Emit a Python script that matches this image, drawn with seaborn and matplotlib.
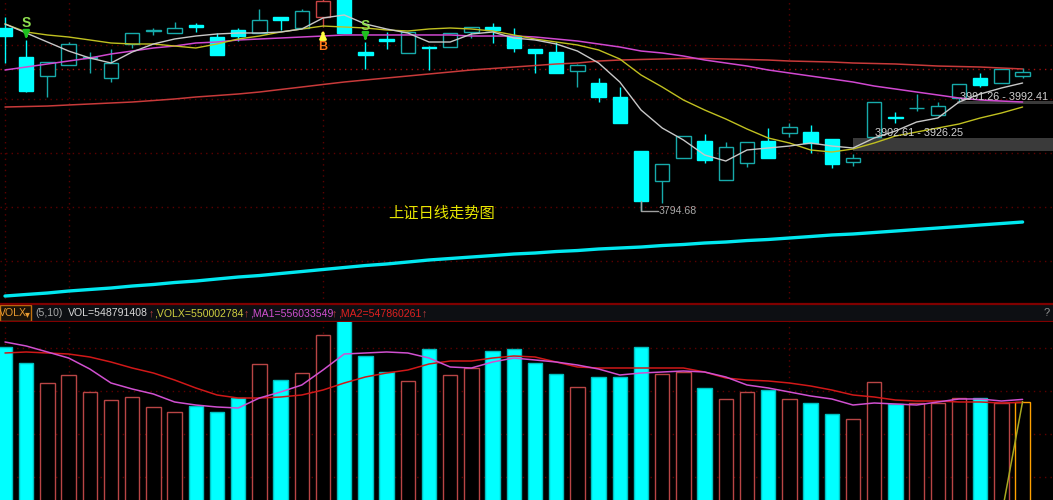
import numpy as np
import matplotlib
matplotlib.use("Agg")
import matplotlib.pyplot as plt
from matplotlib.patches import Rectangle
import seaborn as sns

# ---------------- data ----------------
idx = np.arange(49)

opens = [4127.2, 4074.4, 4039.8, 4059.9, 4073.5, 4036.2, 4098.1, 4121.7, 4118.1, 4132.7,
         4110.8, 4123.6, 4118.1, 4147.2, 4127.2, 4147.2, 4196.4, 4083.5, 4106.3, 4081.7,
         4093.5, 4092.6, 4119.9, 4129.0, 4112.6, 4089.0, 4083.5, 4048.9, 4027.1, 4001.6,
         3903.3, 3848.7, 3890.6, 3921.5, 3850.6, 3881.5, 3921.5, 3936.1, 3937.9, 3925.2,
         3883.3, 3928.8, 3966.1, 3980.7, 3968.9, 3999.8, 4036.2, 4027.1, 4039.8]
closes = [4112.6, 4012.5, 4065.3, 4098.1, 4075.3, 4063.5, 4118.1, 4123.6, 4127.2, 4129.0,
          4078.1, 4112.6, 4141.8, 4141.8, 4158.1, 4176.3, 4118.1, 4078.1, 4104.4, 4119.9,
          4091.7, 4118.1, 4129.0, 4123.6, 4090.8, 4081.7, 4045.3, 4059.9, 4001.6, 3954.3,
          3812.3, 3879.7, 3930.6, 3887.0, 3910.6, 3919.7, 3890.6, 3947.0, 3917.9, 3879.7,
          3890.6, 3992.5, 3964.3, 3982.5, 3985.2, 4025.3, 4023.5, 4052.6, 4047.1]
highs = [4147.2, 4105.4, 4065.3, 4101.7, 4083.5, 4089.0, 4118.1, 4127.2, 4138.1, 4136.3,
         4118.1, 4127.2, 4161.8, 4147.2, 4161.8, 4183.6, 4205.5, 4101.7, 4119.9, 4119.9,
         4094.4, 4118.1, 4129.0, 4136.3, 4127.2, 4089.0, 4101.7, 4061.7, 4036.2, 4019.8,
         3903.3, 3879.7, 3930.6, 3934.3, 3919.7, 3919.7, 3945.2, 3954.3, 3950.7, 3925.2,
         3897.9, 3992.5, 3974.3, 4007.1, 3992.5, 4025.3, 4045.3, 4052.6, 4054.4]
lows = [4063.5, 4010.7, 4001.6, 4059.9, 4045.3, 4028.9, 4090.8, 4114.5, 4118.1, 4119.9,
        4078.1, 4103.5, 4118.1, 4123.6, 4127.2, 4129.0, 4118.1, 4052.6, 4089.0, 4081.7,
        4050.8, 4092.6, 4109.0, 4099.9, 4083.5, 4045.3, 4045.3, 4019.8, 3992.5, 3954.3,
        3794.68, 3808.7, 3890.6, 3881.5, 3850.6, 3874.2, 3890.6, 3928.8, 3899.7, 3872.4,
        3876.0, 3928.8, 3954.3, 3976.1, 3968.9, 3992.5, 4019.8, 4027.1, 4036.2]

ma5 = [4134.5, 4118.1, 4101.7, 4085.3, 4072.6, 4063.5, 4083.5, 4098.1, 4107.2, 4112.6,
       4116.3, 4118.1, 4118.1, 4119.9, 4125.4, 4145.4, 4150.9, 4134.5, 4125.4, 4118.1,
       4101.7, 4101.7, 4116.3, 4119.9, 4109.0, 4105.4, 4098.1, 4085.3, 4063.5, 4028.9,
       3978.0, 3945.2, 3923.4, 3896.1, 3885.1, 3905.2, 3908.8, 3912.4, 3917.9, 3912.4,
       3908.8, 3927.0, 3939.7, 3956.1, 3963.4, 3992.5, 4007.1, 4018.0, 4027.1]
ma10 = [4134.5, 4119.9, 4114.5, 4110.8, 4105.4, 4099.9, 4098.1, 4098.1, 4094.4, 4090.8,
        4098.1, 4107.2, 4112.6, 4119.9, 4125.4, 4130.8, 4129.0, 4127.2, 4123.6, 4121.7,
        4125.4, 4127.2, 4125.4, 4121.7, 4114.5, 4107.2, 4101.7, 4096.3, 4087.2, 4070.8,
        4041.7, 4019.8, 3996.2, 3978.0, 3961.6, 3943.4, 3927.0, 3917.9, 3905.2, 3901.5,
        3907.0, 3917.9, 3930.6, 3937.9, 3945.2, 3952.5, 3963.4, 3972.5, 3983.4]
ma30 = [4050.8, 4056.2, 4061.7, 4067.1, 4072.6, 4079.9, 4085.3, 4090.8, 4094.4, 4099.9,
        4101.7, 4105.4, 4107.2, 4109.0, 4110.8, 4112.6, 4114.5, 4114.5, 4114.5, 4114.5,
        4114.5, 4114.5, 4112.6, 4112.6, 4112.6, 4110.8, 4107.2, 4103.5, 4098.1, 4092.6,
        4085.3, 4081.7, 4076.2, 4069.0, 4063.5, 4058.0, 4050.8, 4045.3, 4039.8, 4034.4,
        4028.9, 4021.6, 4016.2, 4010.7, 4005.3, 3999.8, 3996.2, 3994.3, 3992.5]
ma120 = [3983.4, 3984.3, 3985.2, 3987.1, 3988.9, 3990.7, 3992.5, 3995.2, 3998.0, 4001.6,
         4004.3, 4007.1, 4010.7, 4015.3, 4019.8, 4024.4, 4028.9, 4032.6, 4036.2, 4039.8,
         4043.5, 4047.1, 4050.8, 4053.5, 4056.2, 4058.9, 4061.7, 4063.5, 4067.1, 4068.9,
         4069.9, 4070.8, 4071.7, 4071.7, 4070.8, 4069.9, 4068.9, 4067.1, 4066.2, 4065.3,
         4063.5, 4062.6, 4061.7, 4059.9, 4058.0, 4057.1, 4056.2, 4054.4, 4052.6]
ma250 = [3639.4, 3642.2, 3644.9, 3648.5, 3651.3, 3654.0, 3657.6, 3660.4, 3664.0, 3666.7,
         3670.4, 3674.0, 3676.7, 3680.4, 3684.0, 3687.7, 3691.3, 3694.9, 3697.7, 3701.3,
         3705.0, 3707.7, 3710.4, 3713.1, 3715.9, 3717.7, 3720.4, 3722.2, 3725.0, 3726.8,
         3728.6, 3731.3, 3733.2, 3735.9, 3737.7, 3740.4, 3742.3, 3745.0, 3747.7, 3750.5,
         3752.3, 3755.0, 3757.7, 3760.5, 3763.2, 3765.9, 3768.7, 3771.4, 3774.1]

# volume in millions
vol = [701.3, 657.0, 601.5, 623.7, 576.6, 554.4, 562.7, 535.0, 521.1, 537.8,
       521.1, 559.9, 654.2, 609.8, 629.2, 734.6, 781.7, 676.4, 632.0, 607.1,
       695.8, 623.7, 643.1, 690.2, 695.8, 657.0, 626.5, 590.4, 618.2, 618.2,
       701.3, 626.5, 632.0, 587.7, 557.2, 576.6, 582.1, 557.2, 546.1, 515.6,
       501.7, 604.3, 543.3, 546.1, 546.1, 559.9, 559.9, 546.1, 548.791408]
vol_ma1 = [715.2, 704.1, 687.5, 670.8, 640.3, 601.5, 584.9, 571.0, 548.9, 540.5,
           535.0, 532.2, 559.9, 576.6, 596.0, 637.6, 681.9, 684.7, 687.5, 684.7,
           670.8, 645.9, 643.1, 659.7, 670.8, 665.3, 659.7, 651.4, 640.3, 623.7,
           629.2, 632.0, 634.8, 632.0, 618.2, 596.0, 587.7, 576.6, 565.5, 557.2,
           540.5, 546.1, 543.3, 540.5, 548.9, 557.2, 557.2, 551.6, 556.033549]
vol_ma2 = [684.7, 687.5, 684.7, 681.9, 673.6, 659.7, 643.1, 629.2, 609.8, 587.7,
           568.3, 559.9, 559.9, 562.7, 568.3, 582.1, 601.5, 618.2, 629.2, 637.6,
           654.2, 662.5, 662.5, 670.8, 676.4, 673.6, 659.7, 645.9, 643.1, 643.1,
           643.1, 643.1, 643.1, 632.0, 615.4, 609.8, 607.1, 601.5, 593.2, 582.1,
           568.3, 562.7, 554.4, 551.6, 551.6, 548.9, 548.9, 546.1, 547.860261]
volx_idx = [47, 48]
volx = [232.8, 550.002784]

sell_idx = [1, 17]
buy_idx = [15]
low_label = 3794.68
range1 = (3902.61, 3926.25)
range2 = (3991.26, 3992.41)

# ---------------- style ----------------
sns.set_theme(style="dark", rc={"axes.facecolor": "black", "figure.facecolor": "black"})
plt.rcParams["font.family"] = ["Liberation Sans", "DejaVu Sans"]

CYAN = "#00ffff"
TEAL = "#17aaaa"
GRID = "#5c0000"

fig = plt.figure(figsize=(10.53, 5.0), dpi=100)
ax = fig.add_axes([0, 196 / 500, 1, 304 / 500])
bar_ax = fig.add_axes([0, 178 / 500, 1, 18 / 500])
axv = fig.add_axes([0, 0, 1, 178 / 500])

xlim = (-5 / 21.2, 1048 / 21.2)
for a in (ax, axv):
    a.set_xlim(*xlim)
    a.set_facecolor("black")
    a.set_xticks([])
    a.set_yticks([])
    for s in a.spines.values():
        s.set_visible(False)
ax.set_ylim(3624.9, 4178.15)
axv.set_ylim(277.2, 770.6)

# grid
for lv in [4096.2, 3998.0, 3899.7, 3801.4, 3703.1]:
    ax.axhline(lv, color=GRID, lw=1, ls=(0, (1, 3)), zorder=0)
ax.axhline(4052.6, color="#a01010", lw=1, ls=(0, (1, 3)), zorder=0)
for lv in [698.5, 579.3, 460.2, 341.0]:
    axv.axhline(lv, color=GRID, lw=1, ls=(0, (1, 3)), zorder=0)
for vx in [0, 3, 15, 37]:
    ax.axvline(vx, color=GRID, lw=1, ls=(0, (1, 3)), zorder=0)
    axv.axvline(vx, color=GRID, lw=1, ls=(0, (1, 3)), zorder=0)

# range bands
ax.axhspan(range1[0], range1[1], xmin=(40 - xlim[0]) / (xlim[1] - xlim[0]), xmax=1,
           color="#3a3a3a", lw=0, zorder=1)
ax.axhspan(range2[0] - 2, range2[1] + 2, xmin=(44.9 - xlim[0]) / (xlim[1] - xlim[0]), xmax=1,
           color="#3a3a3a", lw=0, zorder=1)

# candles
o = np.array(opens); c = np.array(closes)
up = c >= o
edge = [("#c84444" if i in buy_idx else TEAL) if up[i] else CYAN for i in idx]
face = ["black" if up[i] else CYAN for i in idx]
ax.vlines(idx, lows, highs, colors=edge, lw=1, zorder=2)
ax.bar(idx, np.maximum(np.abs(c - o), 1.0), bottom=np.minimum(o, c), width=0.68,
       color=face, edgecolor=edge, linewidth=1, zorder=3)

# moving averages
sns.lineplot(x=idx, y=ma250, ax=ax, color="#00e8f0", lw=2.4, zorder=4)
sns.lineplot(x=idx, y=ma120, ax=ax, color="#c83a3a", lw=1.1, zorder=4)
sns.lineplot(x=idx, y=ma30, ax=ax, color="#d048d0", lw=1.1, zorder=4)
sns.lineplot(x=idx, y=ma10, ax=ax, color="#c0c020", lw=1.0, zorder=4)
sns.lineplot(x=idx, y=ma5, ax=ax, color="#c8c8c8", lw=1.0, zorder=4)
ax.set_xlabel(""); ax.set_ylabel("")

# signals
for i in sell_idx:
    ax.text(i, highs[i] + 30, "S", color="#90e050", fontsize=10, fontweight="bold",
            ha="center", va="center", zorder=6)
    ax.annotate("", xy=(i, highs[i] - 2), xytext=(i, highs[i] + 13),
                arrowprops=dict(arrowstyle="-|>", color="#20c020", lw=2, mutation_scale=9),
                zorder=6)
for i in buy_idx:
    ax.annotate("", xy=(i, 4126.0), xytext=(i, 4112.0),
                arrowprops=dict(arrowstyle="-|>", color="#ffff40", lw=2, mutation_scale=9),
                zorder=6)
    ax.text(i, 4092.6, "B", color="#ff7a1a", fontsize=9, fontweight="bold",
            ha="center", va="center", zorder=6)

# low label
ax.plot([30, 30, 30.8], [closes[30], low_label, low_label], color="#a0a0a0", lw=1, zorder=5)
ax.text(30.82, low_label, f"{low_label:.2f}", color="#a8a8a8", fontsize=7.6,
        ha="left", va="center", zorder=6)
ax.text(875 / 1053, 1 - 133 / 304, f"{range1[0]:.2f} - {range1[1]:.2f}", color="#d0d0d0",
        fontsize=7.8, ha="left", va="center", transform=ax.transAxes, zorder=6)
ax.text(960 / 1053, 1 - 97 / 304, f"{range2[0]:.2f} - {range2[1]:.2f}", color="#d0d0d0",
        fontsize=7.8, ha="left", va="center", transform=ax.transAxes, zorder=6)

ax.text(442 / 1053, 1 - 213 / 304, "上证日线走势图", color="#e6e600", fontsize=11,
        family=["Noto Sans CJK SC", "DejaVu Sans"], ha="center", va="center",
        transform=ax.transAxes, zorder=6)

# volume panel
v_up = up.copy()
v_face = ["black" if v_up[i] else CYAN for i in idx]
v_edge = ["#b84545" if v_up[i] else "#00c0c0" for i in idx]
v_edge[-1] = "#ffa000"
axv.bar(idx, vol, width=0.68, color=v_face, edgecolor=v_edge, linewidth=1, zorder=2)
sns.lineplot(x=idx, y=vol_ma2, ax=axv, color="#d01818", lw=1.1, zorder=4)
sns.lineplot(x=idx, y=vol_ma1, ax=axv, color="#d050d0", lw=1.1, zorder=4)
sns.lineplot(x=volx_idx, y=volx, ax=axv, color="#a8a820", lw=1.1, zorder=4)
axv.set_xlabel(""); axv.set_ylabel("")

# info bar
bar_ax.set_xlim(0, 1053)
bar_ax.set_ylim(0, 1)
bar_ax.set_xticks([]); bar_ax.set_yticks([])
bar_ax.set_facecolor("#0d0f13")
for s in bar_ax.spines.values():
    s.set_visible(False)
bar_ax.axhline(1, color="#800000", lw=1.6, clip_on=False)
bar_ax.axhline(0, color="#800000", lw=1.6, clip_on=False)
bar_ax.add_patch(Rectangle((0, 0.08), 31, 0.84, facecolor="#1a1208", edgecolor="#c07010", lw=1))
bar_ax.text(-1, 0.5, "VOLX", color="#e89a30", fontsize=7.6, ha="left", va="center")
bar_ax.text(25, 0.45, "▾", color="#e89a30", fontsize=7, ha="left", va="center",
            family=["DejaVu Sans"])
segments = [
    (35, "(5,10)", "#a8a8a8"),
    (68, f"VOL={vol[-1] * 1e6:.0f}", "#d8d8d8"),
    (149, "↑", "#c04040"),
    (154, f",VOLX={volx[-1] * 1e6:.0f}", "#d0d040"),
    (244, "↑", "#c04040"),
    (250, f",MA1={vol_ma1[-1] * 1e6:.0f}", "#d050d0"),
    (332, "↑", "#c04040"),
    (338, f",MA2={vol_ma2[-1] * 1e6:.0f}", "#e02020"),
    (422, "↑", "#c04040"),
]
for xp, txt, col in segments:
    bar_ax.text(xp, 0.5, txt, color=col, fontsize=7.6, ha="left", va="center")
bar_ax.text(1047, 0.5, "?", color="#909090", fontsize=8, ha="center", va="center")

fig.savefig("out.png", dpi=100, facecolor="black")
